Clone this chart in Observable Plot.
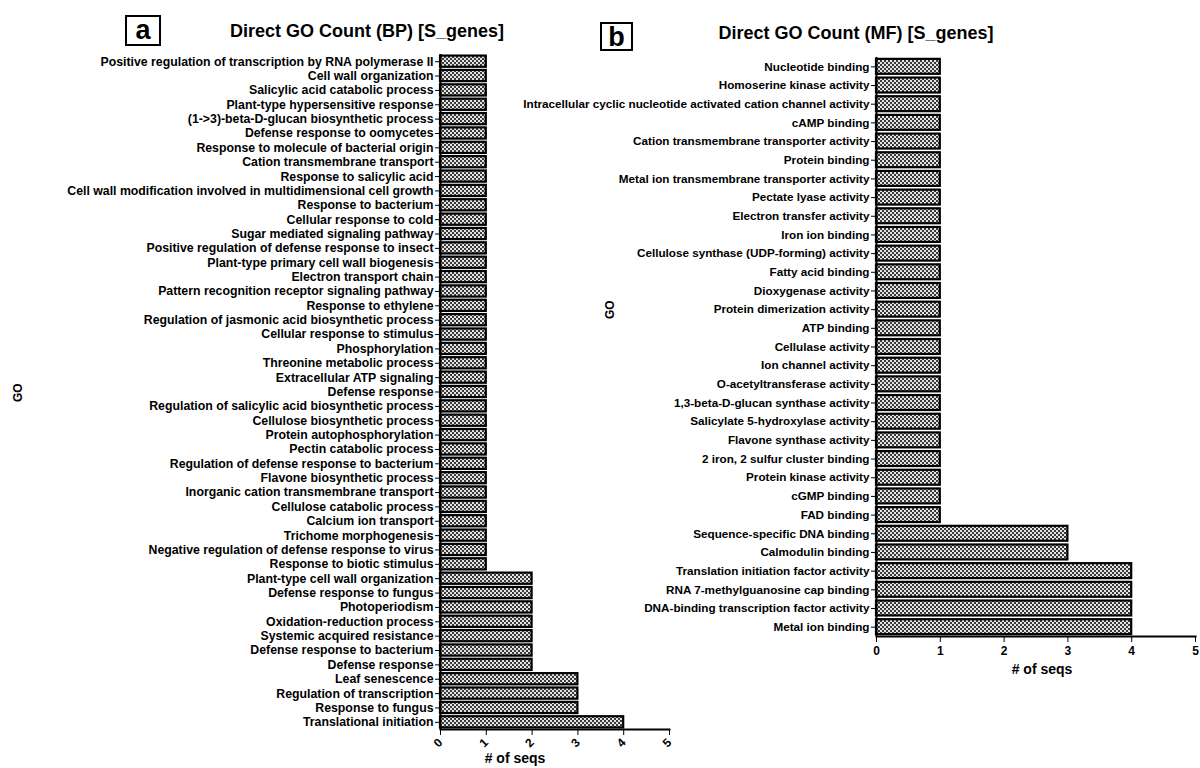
<!DOCTYPE html>
<html><head><meta charset="utf-8">
<script src="https://cdn.jsdelivr.net/npm/d3@7"></script>
<script src="https://cdn.jsdelivr.net/npm/@observablehq/plot@0.6"></script>
<style>
body{margin:0;background:#fff;}
#wrap{position:relative;width:1200px;height:768px;overflow:hidden;font-family:"Liberation Sans",Arial,sans-serif;color:#000;background:#fff;}
.title{position:absolute;font-weight:bold;font-size:18px;white-space:nowrap;transform:translate(-50%,-50%);z-index:2;}
.tag{position:absolute;border:2.5px solid #000;box-sizing:border-box;font-size:27px;font-weight:bold;text-align:center;line-height:26px;z-index:2;}
.panel{position:absolute;top:0;z-index:1;line-height:0;}
.panel svg{background:transparent !important;display:block;}
</style></head><body>
<div id="wrap">
  <div class="panel" id="pa" style="left:0px;"></div>
  <div class="panel" id="pb" style="left:500px;"></div>
  <div class="tag" style="left:125px;top:15px;width:36px;height:31px;">a</div>
  <div class="title" style="left:367px;top:31px;">Direct GO Count (BP) [S_genes]</div>
  <div class="tag" style="left:600px;top:22px;width:33px;height:29px;">b</div>
  <div class="title" style="left:856px;top:33px;">Direct GO Count (MF) [S_genes]</div>
</div>
<script>
const bpTerms = [
  "Positive regulation of transcription by RNA polymerase II",
  "Cell wall organization",
  "Salicylic acid catabolic process",
  "Plant-type hypersensitive response",
  "(1->3)-beta-D-glucan biosynthetic process",
  "Defense response to oomycetes",
  "Response to molecule of bacterial origin",
  "Cation transmembrane transport",
  "Response to salicylic acid",
  "Cell wall modification involved in multidimensional cell growth",
  "Response to bacterium",
  "Cellular response to cold",
  "Sugar mediated signaling pathway",
  "Positive regulation of defense response to insect",
  "Plant-type primary cell wall biogenesis",
  "Electron transport chain",
  "Pattern recognition receptor signaling pathway",
  "Response to ethylene",
  "Regulation of jasmonic acid biosynthetic process",
  "Cellular response to stimulus",
  "Phosphorylation",
  "Threonine metabolic process",
  "Extracellular ATP signaling",
  "Defense response",
  "Regulation of salicylic acid biosynthetic process",
  "Cellulose biosynthetic process",
  "Protein autophosphorylation",
  "Pectin catabolic process",
  "Regulation of defense response to bacterium",
  "Flavone biosynthetic process",
  "Inorganic cation transmembrane transport",
  "Cellulose catabolic process",
  "Calcium ion transport",
  "Trichome morphogenesis",
  "Negative regulation of defense response to virus",
  "Response to biotic stimulus",
  "Plant-type cell wall organization",
  "Defense response to fungus",
  "Photoperiodism",
  "Oxidation-reduction process",
  "Systemic acquired resistance",
  "Defense response to bacterium",
  "Defense response",
  "Leaf senescence",
  "Regulation of transcription",
  "Response to fungus",
  "Translational initiation"
];
const bpCounts = [1,1,1,1,1,1,1,1,1,1,1,1,1,1,1,1,1,1,1,1,1,1,1,1,1,1,1,1,1,1,1,1,1,1,1,1,2,2,2,2,2,2,2,3,3,3,4];

const mfTerms = [
  "Nucleotide binding",
  "Homoserine kinase activity",
  "Intracellular cyclic nucleotide activated cation channel activity",
  "cAMP binding",
  "Cation transmembrane transporter activity",
  "Protein binding",
  "Metal ion transmembrane transporter activity",
  "Pectate lyase activity",
  "Electron transfer activity",
  "Iron ion binding",
  "Cellulose synthase (UDP-forming) activity",
  "Fatty acid binding",
  "Dioxygenase activity",
  "Protein dimerization activity",
  "ATP binding",
  "Cellulase activity",
  "Ion channel activity",
  "O-acetyltransferase activity",
  "1,3-beta-D-glucan synthase activity",
  "Salicylate 5-hydroxylase activity",
  "Flavone synthase activity",
  "2 iron, 2 sulfur cluster binding",
  "Protein kinase activity",
  "cGMP binding",
  "FAD binding",
  "Sequence-specific DNA binding",
  "Calmodulin binding",
  "Translation initiation factor activity",
  "RNA 7-methylguanosine cap binding",
  "DNA-binding transcription factor activity",
  "Metal ion binding"
];
const mfCounts = [1,1,1,1,1,1,1,1,1,1,1,1,1,1,1,1,1,1,1,1,1,1,1,1,1,3,3,4,4,4,4];

const xTicks = [0,1,2,3,4,5];
const xLabel = "# of seqs";
const yLabel = "GO";

function addPattern(svg, id) {
  d3.select(svg).insert("defs", ":first-child").html(
    `<pattern id="${id}" width="4" height="4" patternUnits="userSpaceOnUse">
       <rect width="4" height="4" fill="#e4e4e4"/>
       <rect x="0" y="0" width="2" height="2" fill="#3a3a3a"/>
       <rect x="2" y="2" width="2" height="2" fill="#3a3a3a"/>
     </pattern>`);
  return svg;
}

function panel(terms, counts, cfg) {
  const data = terms.map((t, i) => ({i, t, v: counts[i]}));
  const svg = Plot.plot({
    width: cfg.width, height: cfg.height,
    marginLeft: cfg.ml, marginRight: cfg.mr, marginTop: cfg.mt, marginBottom: cfg.mb,
    style: {fontFamily: "Liberation Sans, Arial, sans-serif", fontWeight: "bold", fontSize: cfg.fs + "px", color: "#000", background: "transparent", overflow: "visible"},
    x: {domain: [0, 5], ticks: xTicks, label: null},
    y: {type: "band", domain: d3.range(terms.length), paddingInner: cfg.pad, paddingOuter: cfg.pad / 2, round: false, label: null},
    marks: [
      Plot.barX(data, {x: "v", y: "i", fill: `url(#${cfg.pid})`, stroke: "#000", strokeWidth: 2.2}),
      Plot.ruleX([0], {stroke: "#000", strokeWidth: 2}),
      Plot.frame({anchor: "bottom", stroke: "#000", strokeWidth: 2}),
      Plot.axisY({tickSize: 5, tickPadding: 2, tickFormat: i => terms[i], label: null, fontWeight: "bold"}),
      Plot.axisX({ticks: xTicks, tickSize: 6, tickPadding: cfg.xtp, tickRotate: cfg.rot, label: null, fontSize: cfg.xfs, tickFormat: d3.format("d")}),
      Plot.text([xLabel], {frameAnchor: "bottom", dy: cfg.xldy, dx: cfg.xldx, fontSize: 14, fontWeight: "bold"}),
      Plot.text([yLabel], {frameAnchor: "left", dx: -cfg.yldx, dy: cfg.yldy, rotate: -90, fontSize: 12, fontWeight: "bold"})
    ]
  });
  return addPattern(svg, cfg.pid);
}

document.getElementById("pa").appendChild(panel(bpTerms, bpCounts, {
  width: 690, height: 768, ml: 440, mr: 21, mt: 54, mb: 39, pad: 0.22, fs: 12.3,
  pid: "chkA", rot: -45, xtp: 5, xfs: 12, xldy: 33, xldx: -40, yldx: 422, yldy: 10
}));
document.getElementById("pb").appendChild(panel(mfTerms, mfCounts, {
  width: 700, height: 700, ml: 376, mr: 5, mt: 57, mb: 64, pad: 0.2, fs: 11.7,
  pid: "chkB", rot: 0, xtp: 4, xfs: 12, xldy: 37, xldx: 6, yldx: 266, yldy: -28
}));
</script>
</body></html>
